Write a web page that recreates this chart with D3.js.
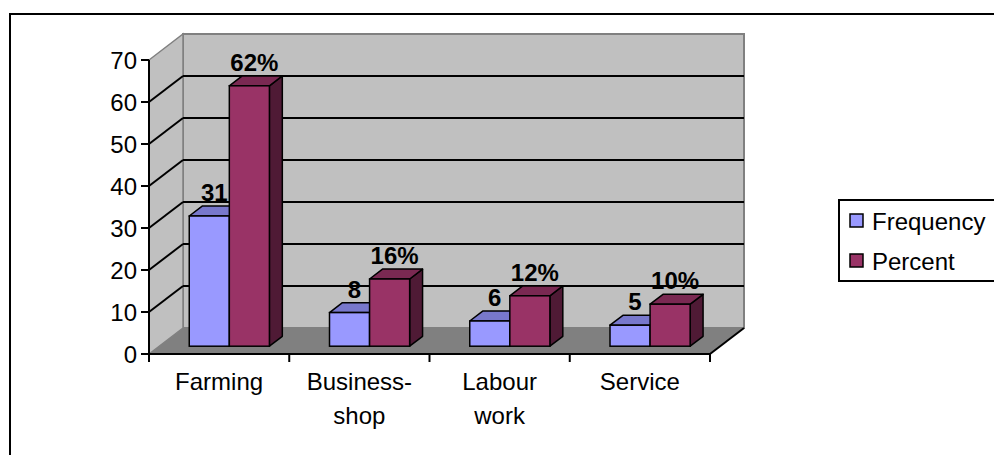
<!DOCTYPE html>
<html>
<head>
<meta charset="utf-8">
<script src="https://cdn.jsdelivr.net/npm/d3@7/dist/d3.min.js"></script>
<style>
  html, body { margin: 0; padding: 0; background: #ffffff; }
  svg { display: block; font-family: "Liberation Sans", Arial, sans-serif; }
</style>
</head>
<body>
<svg id="chart" width="994" height="455"></svg>
<script>
// Occupation of respondents: counts and shares
const categories = ["Farming", "Business-shop", "Labour work", "Service"];
const seriesNames = ["Frequency", "Percent"];
const frequency = [31, 8, 6, 5];
const percent = [62, 16, 12, 10];
const yTicks = [0, 10, 20, 30, 40, 50, 60, 70];

const svg = d3.select("#chart");

// front plane of the 3-D box
const plotLeft = 149, plotRight = 710, plotBase = 354, plotTop = 60;
// depth offset of the back wall
const DX = 34, DY = -26;
// bars sit partway into the depth
const barFront = 0.3, barDepth = 0.38;

const x = d3.scaleBand().domain(categories).range([plotLeft, plotRight]);
const xs = d3.scaleBand().domain(seriesNames).range([0, x.bandwidth()]).paddingOuter(0.75);
const y = d3.scaleLinear().domain([0, 70]).range([plotBase, plotTop]);

const colors = {
  Frequency: { front: "#9999ff", top: "#7878cc", side: "#5c5ca3" },
  Percent:   { front: "#993366", top: "#7a2952", side: "#4f1a35" }
};

const poly = pts => pts.map(p => p.join(",")).join(" ");

// outer frame
svg.append("rect")
  .attr("x", 10).attr("y", 14).attr("width", 1000).attr("height", 500)
  .attr("fill", "none").attr("stroke", "#000").attr("stroke-width", 2);

const box = svg.append("g");

// back wall
box.append("rect")
  .attr("x", plotLeft + DX).attr("y", y(70) + DY)
  .attr("width", plotRight - plotLeft).attr("height", y(0) - y(70))
  .attr("fill", "#c0c0c0").attr("stroke", "#808080").attr("stroke-width", 2);

// side wall
box.append("polygon")
  .attr("points", poly([[plotLeft, y(0)], [plotLeft, y(70)], [plotLeft + DX, y(70) + DY], [plotLeft + DX, y(0) + DY]]))
  .attr("fill", "#c0c0c0").attr("stroke", "#808080").attr("stroke-width", 1.5);

// floor
box.append("polygon")
  .attr("points", poly([[plotLeft, y(0)], [plotRight, y(0)], [plotRight + DX, y(0) + DY], [plotLeft + DX, y(0) + DY]]))
  .attr("fill", "#808080");

// gridlines on back and side walls
const inner = yTicks.filter(v => v > 0 && v < 70);
box.selectAll("line.grid-back").data(inner).join("line")
  .attr("class", "grid-back")
  .attr("x1", plotLeft + DX).attr("x2", plotRight + DX)
  .attr("y1", v => y(v) + DY).attr("y2", v => y(v) + DY)
  .attr("stroke", "#000").attr("stroke-width", 2);
box.selectAll("line.grid-side").data(inner).join("line")
  .attr("class", "grid-side")
  .attr("x1", plotLeft).attr("x2", plotLeft + DX)
  .attr("y1", v => y(v)).attr("y2", v => y(v) + DY)
  .attr("stroke", "#000").attr("stroke-width", 2);

// floor right edge
box.append("line")
  .attr("x1", plotRight).attr("y1", y(0)).attr("x2", plotRight + DX).attr("y2", y(0) + DY)
  .attr("stroke", "#000").attr("stroke-width", 2);

// bars
const bars = [];
categories.forEach((c, i) => {
  bars.push({ cat: c, series: "Frequency", value: frequency[i], label: String(frequency[i]) });
  bars.push({ cat: c, series: "Percent", value: percent[i], label: percent[i] + "%" });
});

const fx = barFront * DX, fy = barFront * DY;
const bx = barDepth * DX, by = barDepth * DY;

const barG = svg.append("g").selectAll("g").data(bars).join("g");
barG.each(function (d) {
  const g = d3.select(this);
  const x0 = x(d.cat) + xs(d.series) + fx;
  const x1 = x0 + xs.bandwidth();
  const y0 = y(0) + fy;
  const y1 = y(d.value) + fy;
  const col = colors[d.series];
  // right side
  g.append("polygon")
    .attr("points", poly([[x1, y0], [x1, y1], [x1 + bx, y1 + by], [x1 + bx, y0 + by]]))
    .attr("fill", col.side).attr("stroke", "#000").attr("stroke-width", 1.5).attr("stroke-linejoin", "round");
  // top
  g.append("polygon")
    .attr("points", poly([[x0, y1], [x1, y1], [x1 + bx, y1 + by], [x0 + bx, y1 + by]]))
    .attr("fill", col.top).attr("stroke", "#000").attr("stroke-width", 1.5).attr("stroke-linejoin", "round");
  // front
  g.append("rect")
    .attr("x", x0).attr("y", y1).attr("width", x1 - x0).attr("height", y0 - y1)
    .attr("fill", col.front).attr("stroke", "#000").attr("stroke-width", 1.5);
});

// value labels
svg.append("g").selectAll("text").data(bars).join("text")
  .attr("x", d => x(d.cat) + xs(d.series) + fx + xs.bandwidth() / 2 + 5)
  .attr("y", d => y(d.value) + fy - 15)
  .attr("text-anchor", "middle")
  .attr("font-size", 24).attr("font-weight", "bold").attr("fill", "#000")
  .text(d => d.label);

// front axes
const axes = svg.append("g");
axes.append("line")
  .attr("x1", plotLeft).attr("x2", plotLeft).attr("y1", y(0)).attr("y2", y(70))
  .attr("stroke", "#000").attr("stroke-width", 2);
axes.append("line")
  .attr("x1", plotLeft - 8).attr("x2", plotRight).attr("y1", y(0)).attr("y2", y(0))
  .attr("stroke", "#000").attr("stroke-width", 2);

// y ticks and labels
axes.selectAll("line.ytick").data(yTicks).join("line")
  .attr("class", "ytick")
  .attr("x1", plotLeft - 8).attr("x2", plotLeft)
  .attr("y1", v => y(v)).attr("y2", v => y(v))
  .attr("stroke", "#000").attr("stroke-width", 2);
axes.selectAll("text.ylab").data(yTicks).join("text")
  .attr("class", "ylab")
  .attr("x", plotLeft - 12).attr("y", v => y(v))
  .attr("dy", "0.36em")
  .attr("text-anchor", "end")
  .attr("font-size", 24).attr("fill", "#000")
  .text(v => v);

// x ticks at category boundaries
const bounds = categories.map(c => x(c)).concat([plotRight]);
axes.selectAll("line.xtick").data(bounds).join("line")
  .attr("class", "xtick")
  .attr("x1", d => d).attr("x2", d => d)
  .attr("y1", y(0)).attr("y2", y(0) + 8)
  .attr("stroke", "#000").attr("stroke-width", 2);

// category labels, wrapped
const xl = axes.selectAll("text.xlab").data(categories).join("text")
  .attr("class", "xlab")
  .attr("text-anchor", "middle")
  .attr("font-size", 24).attr("fill", "#000");
xl.each(function (c) {
  const lines = c.split(/(?<=-)|\s/);
  const t = d3.select(this);
  lines.forEach((ln, k) => {
    t.append("tspan")
      .attr("x", x(c) + x.bandwidth() / 2)
      .attr("y", 390 + k * 34)
      .text(ln);
  });
});

// legend
const legend = svg.append("g");
legend.append("rect")
  .attr("x", 839).attr("y", 200).attr("width", 170).attr("height", 81)
  .attr("fill", "#fff").attr("stroke", "#000").attr("stroke-width", 2);
const li = legend.selectAll("g").data(seriesNames).join("g")
  .attr("transform", (d, i) => `translate(850, ${221 + i * 40})`);
li.append("rect")
  .attr("x", 0).attr("y", -7).attr("width", 13).attr("height", 13)
  .attr("fill", d => colors[d].front).attr("stroke", "#000").attr("stroke-width", 1.5);
li.append("text")
  .attr("x", 22).attr("y", 0).attr("dy", "0.36em")
  .attr("font-size", 24).attr("fill", "#000")
  .text(d => d);
</script>
</body>
</html>
